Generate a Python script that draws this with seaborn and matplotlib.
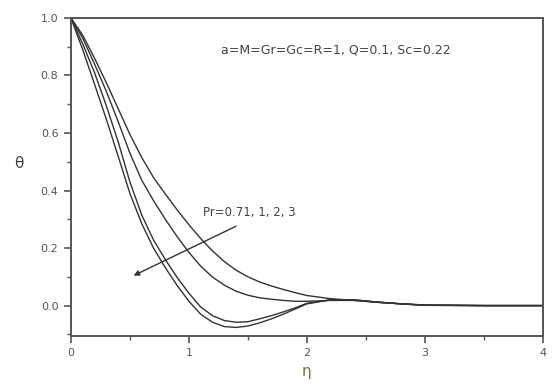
import numpy as np
import pandas as pd
import matplotlib
matplotlib.use("Agg")
import matplotlib.pyplot as plt
import seaborn as sns
from matplotlib.ticker import MultipleLocator

# eta grid and theta profiles
eta = [0.0, 0.1, 0.2, 0.3, 0.4, 0.5, 0.6, 0.7, 0.8, 0.9, 1.0, 1.1, 1.2, 1.3,
       1.4, 1.5, 1.6, 1.7, 1.8, 1.9, 2.0, 2.2, 2.4, 2.6, 2.8, 3.0, 3.5, 4.0]
theta_pr071 = [1.000, 0.940, 0.860, 0.775, 0.685, 0.595, 0.515, 0.445, 0.388,
               0.333, 0.281, 0.233, 0.190, 0.153, 0.123, 0.100, 0.082, 0.068,
               0.056, 0.045, 0.035, 0.024, 0.018, 0.011, 0.006, 0.002, 0.000, 0.000]
theta_pr1 = [1.000, 0.930, 0.840, 0.745, 0.640, 0.530, 0.436, 0.365, 0.300,
             0.240, 0.185, 0.137, 0.099, 0.071, 0.050, 0.036, 0.027, 0.022,
             0.018, 0.015, 0.015, 0.018, 0.018, 0.012, 0.006, 0.002, 0.000, 0.000]
theta_pr2 = [1.000, 0.910, 0.810, 0.695, 0.570, 0.430, 0.315, 0.228, 0.160,
             0.098, 0.043, -0.005, -0.035, -0.052, -0.058, -0.056, -0.046, -0.035,
             -0.022, -0.008, 0.008, 0.020, 0.020, 0.012, 0.006, 0.001, 0.000, 0.000]
theta_pr3 = [1.000, 0.890, 0.770, 0.648, 0.520, 0.390, 0.285, 0.200, 0.132,
             0.070, 0.015, -0.030, -0.058, -0.073, -0.076, -0.071, -0.060, -0.046,
             -0.030, -0.012, 0.006, 0.020, 0.020, 0.012, 0.006, 0.001, 0.000, 0.000]
pr_labels = ["0.71", "1", "2", "3"]

frames = []
for pr, th in zip(pr_labels, [theta_pr071, theta_pr1, theta_pr2, theta_pr3]):
    frames.append(pd.DataFrame({"eta": eta, "theta": th, "Pr": pr}))
df = pd.concat(frames, ignore_index=True)

sns.set_style("ticks")
fig = plt.figure(figsize=(5.54, 3.9), dpi=100)
ax = fig.add_axes([0.128, 0.139, 0.852, 0.815])

sns.lineplot(data=df, x="eta", y="theta", hue="Pr", estimator=None, sort=False,
             palette=["#333333"] * 4, linewidth=1.0, legend=False, ax=ax)

ax.set_xlim(0, 4)
ax.set_ylim(-0.105, 1.0)
ax.xaxis.set_major_locator(MultipleLocator(1))
ax.xaxis.set_minor_locator(MultipleLocator(0.5))
ax.yaxis.set_major_locator(MultipleLocator(0.2))
ax.yaxis.set_minor_locator(MultipleLocator(0.1))
ax.tick_params(which="major", direction="out", length=5, width=1.2,
               color="#555555", labelcolor="#555555", labelsize=8, pad=4)
ax.tick_params(which="minor", direction="out", length=3, width=1.0, color="#555555")
ax.yaxis.set_major_formatter(matplotlib.ticker.FormatStrFormatter("%.1f"))
for s in ax.spines.values():
    s.set_color("#555555")
    s.set_linewidth(1.4)

ax.set_xlabel("η", fontsize=11, color="#8a6a3a", labelpad=4)
ax.set_ylabel("θ", fontsize=11, color="#444444", rotation=0)
ax.yaxis.set_label_coords(-0.11, 0.52)

ax.text(1.27, 0.889, "a=M=Gr=Gc=R=1, Q=0.1, Sc=0.22", fontsize=9,
        color="#444444", va="center", ha="left")
ax.text(1.12, 0.324, "Pr=0.71, 1, 2, 3", fontsize=8.5,
        color="#444444", va="center", ha="left")
ax.annotate("", xy=(0.51, 0.10), xytext=(1.42, 0.28),
            arrowprops=dict(arrowstyle="-|>", color="#333333", lw=1.0,
                            mutation_scale=8))

fig.savefig("out.png", dpi=100)
